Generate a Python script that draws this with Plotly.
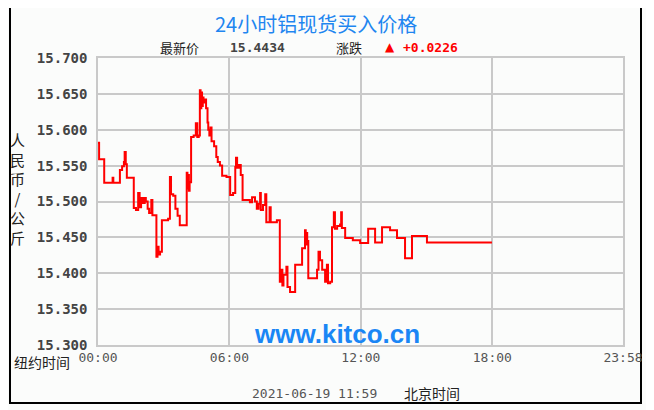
import plotly.graph_objects as go

# minutes since 00:00 (New York time) and aluminium spot bid price (RMB/kg)
MINUTES = [
    0, 3, 17, 40, 42, 60, 66, 71, 73, 76, 79, 98, 104, 110, 114, 118, 123, 128, 131,
    136, 140, 146, 149, 160, 163, 166, 170, 175, 192, 197, 200, 206, 212, 218, 224,
    243, 245, 247, 249, 251, 255, 262, 268, 272, 276, 279, 281, 283, 285, 287, 289,
    293, 296, 300, 302, 305, 308, 311, 318, 324, 328, 334, 340, 352, 362, 370, 376,
    378, 381, 386, 391, 396, 416, 422, 430, 435, 440, 444, 446, 452, 458, 461, 470,
    473, 490, 498, 502, 505, 508, 516, 519, 526, 540, 559, 567, 569, 571, 573, 576,
    600, 604, 608, 614, 622, 627, 630, 636, 641, 646, 649, 655, 663, 666, 668, 677,
    698, 718, 740, 759, 778, 800, 819, 841, 860, 901, 1079,
]
PRICES = [
    15.582, 15.559, 15.526, 15.533, 15.526, 15.544, 15.549, 15.555, 15.569, 15.552,
    15.533, 15.491, 15.488, 15.512, 15.492, 15.505, 15.498, 15.505, 15.500, 15.490,
    15.484, 15.502, 15.481, 15.423, 15.437, 15.426, 15.430, 15.474, 15.476, 15.534,
    15.510, 15.508, 15.490, 15.480, 15.467, 15.540, 15.518, 15.537, 15.515, 15.527,
    15.590, 15.592, 15.609, 15.590, 15.592, 15.655, 15.630, 15.652, 15.633, 15.645,
    15.638, 15.642, 15.630, 15.610, 15.600, 15.592, 15.603, 15.584, 15.577, 15.562,
    15.555, 15.550, 15.536, 15.534, 15.509, 15.512, 15.548, 15.561, 15.547, 15.551,
    15.537, 15.502, 15.499, 15.506, 15.500, 15.490, 15.497, 15.512, 15.488, 15.495,
    15.510, 15.471, 15.492, 15.471, 15.474, 15.388, 15.405, 15.383, 15.398, 15.409,
    15.381, 15.374, 15.412, 15.435, 15.460, 15.440, 15.456, 15.445, 15.393, 15.405,
    15.430, 15.418, 15.405, 15.388, 15.412, 15.386, 15.388, 15.464, 15.485, 15.462,
    15.466, 15.468, 15.485, 15.463, 15.449, 15.446, 15.442, 15.462, 15.443, 15.464,
    15.460, 15.449, 15.421, 15.452, 15.443, 15.443,
]

X_TICKS = [0, 360, 720, 1080, 1438]
X_LABELS = ["00:00", "06:00", "12:00", "18:00", "23:58"]
Y_TICKS = [15.30, 15.35, 15.40, 15.45, 15.50, 15.55, 15.60, 15.65, 15.70]
Y_LABELS = [f"{v:.3f}" for v in Y_TICKS]

LAST_PRICE = "15.4434"
CHANGE = "+0.0226"
STAMP = "2021-06-19 11:59"

# page pixels of the plot area; the page body adds an 8px offset
OFF = 8
L, R, T, B = 98, 623, 58, 345
W, H = 654, 410


def px(x):
    return (x - L) / (R - L)


def py(y):
    return (B - y) / (B - T)


BG = "#fbfcfb"
GRID = "#c9c9c9"
CJK = "Noto Sans CJK SC"

fig = go.Figure()
fig.add_trace(
    go.Scatter(
        x=MINUTES,
        y=PRICES,
        mode="lines",
        line={"color": "#ff0000", "width": 2, "shape": "hv"},
        hoverinfo="skip",
        showlegend=False,
    )
)

axis_common = {
    "showgrid": True,
    "gridcolor": GRID,
    "gridwidth": 1.5,
    "zeroline": False,
    "showline": True,
    "linecolor": GRID,
    "linewidth": 1.5,
    "mirror": True,
    "ticks": "",
}

fig.update_layout(
    width=W - OFF,
    height=H - OFF,
    margin={"l": L - OFF, "r": W - R, "t": T - OFF, "b": H - B, "pad": 0},
    paper_bgcolor=BG,
    plot_bgcolor=BG,
    xaxis={
        **axis_common,
        "range": [0, 1438],
        "tickvals": X_TICKS,
        "ticktext": X_LABELS,
        "tickfont": {"family": "DejaVu Sans Mono", "size": 13, "color": "#555555"},
    },
    yaxis={
        **axis_common,
        "range": [15.30, 15.70],
        "tickvals": Y_TICKS,
        "ticktext": Y_LABELS,
        "ticklabelstandoff": 6,
        "tickfont": {"family": "DejaVu Sans Mono", "size": 14, "color": "#444444", "weight": "bold"},
    },
    shapes=[
        {
            "type": "rect",
            "xref": "paper",
            "yref": "paper",
            "x0": px(10),
            "x1": px(641),
            "y0": py(403),
            "y1": py(5),
            "line": {"color": "#000000", "width": 2},
            "layer": "below",
        }
    ],
)


def note(text, x, y, size=14, color="#222222", family=CJK, xanchor="center", yanchor="middle", bold=False):
    fig.add_annotation(
        text=f"<b>{text}</b>" if bold else text,
        x=px(x),
        y=py(y),
        xref="paper",
        yref="paper",
        xanchor=xanchor,
        yanchor=yanchor,
        showarrow=False,
        borderpad=0,
        font={"family": family, "size": size, "color": color},
    )


note("24小时铝现货买入价格", 316, OFF, size=20, color="#1f86f0", yanchor="top")
note("最新价", 159, 47, size=13, xanchor="left")
note(LAST_PRICE, 229, 47, size=13, color="#444444", family="DejaVu Sans Mono", xanchor="left", bold=True)
note("涨跌", 335, 47, size=13, xanchor="left")
note("▲", 384, 47, size=12, color="#ff0000", family="DejaVu Sans", xanchor="left")
note(CHANGE, 402, 47, size=13, color="#ff0000", family="DejaVu Sans Mono", xanchor="left", bold=True)
note("人<br>民<br>币<br>/<br>公<br>斤", 18, 188, size=15, color="#222222")
note("纽约时间", 13, 362, size=14, xanchor="left")
note("www.kitco.cn", 337, 334, size=26, color="#1a86f5", family="Liberation Sans", bold=True)
note(STAMP, 251, 393, size=13, color="#555555", family="DejaVu Sans Mono", xanchor="left")
note("北京时间", 403, 393, size=14, xanchor="left")

fig.write_html("out.html")
